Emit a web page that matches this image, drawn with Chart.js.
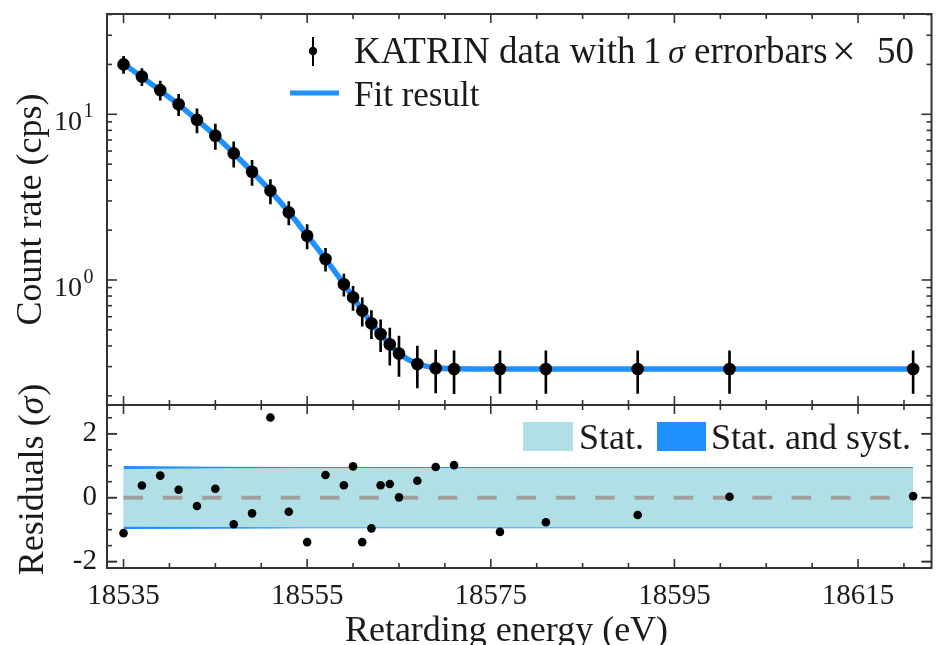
<!DOCTYPE html>
<html><head><meta charset="utf-8">
<script src="https://cdn.jsdelivr.net/npm/chart.js@4"></script>
<style>
html,body{margin:0;padding:0;background:#fff;overflow:hidden;width:946px;height:645px}
#wrap{position:relative;width:946px;height:645px;overflow:hidden}
#top{position:absolute;left:0;top:0;width:946px;height:420px}
#bot{position:absolute;left:0;top:370px;width:946px;height:290px}
</style></head><body>
<div id="wrap">
<canvas id="top" width="946" height="420"></canvas>
<canvas id="bot" width="946" height="290"></canvas>
</div>
<script>
// ---- data ----
const energies = [18535,18537,18539,18541,18543,18545,18547,18549,18551,18553,18555,18557,18559,18560,18561,18562,18563,18564,18565,18567,18569,18571,18576,18581,18591,18601,18621];
const rates = [20.0,16.9,14.0,11.5,9.25,7.43,5.81,4.50,3.46,2.56,1.85,1.34,0.942,0.786,0.653,0.548,0.472,0.409,0.360,0.311,0.293,0.290,0.290,0.290,0.290,0.290,0.290];
const rateErrors = [2.36,2.0,1.85,1.68,1.54,1.29,1.01,0.78,0.58,0.41,0.31,0.21,0.144,0.131,0.127,0.105,0.103,0.103,0.098,0.088,0.085,0.084,0.083,0.083,0.083,0.083,0.083];
const fitRates = [20.2,16.8,13.9,11.45,9.25,7.42,5.82,4.5,3.45,2.57,1.86,1.34,0.945,0.79,0.655,0.55,0.47,0.408,0.36,0.312,0.295,0.291,0.29,0.29,0.29,0.29,0.29];
const residuals = [-1.11,0.38,0.69,0.25,-0.26,0.28,-0.83,-0.49,2.51,-0.44,-1.39,0.71,0.39,0.98,-1.39,-0.96,0.39,0.43,0.01,0.53,0.96,1.02,-1.07,-0.77,-0.54,0.03,0.05];
const bandEnergies = [18535,18545,18555,18565,18575,18595,18621];
const statUpper = [0.90,0.92,0.93,0.93,0.93,0.93,0.93];
const statLower = [-0.91,-0.92,-0.93,-0.93,-0.93,-0.93,-0.93];
const systUpper = [0.99,0.97,0.96,0.96,0.96,0.96,0.96];
const systLower = [-0.98,-0.97,-0.96,-0.96,-0.96,-0.96,-0.96];
const xTickLabels = [18535,18555,18575,18595,18615];
const xMinorTicks = [18535,18540,18545,18550,18555,18560,18565,18570,18575,18580,18585,18590,18595,18600,18605,18610,18615,18620];
const logMajorTicks = [1,10];
const logMinorTicks = [0.2,0.3,0.4,0.5,0.6,0.7,0.8,0.9,2,3,4,5,6,7,8,9,20,30,40];
const resTickLabels = [-2,0,2];
const resMinorTicks = [-2,-1.5,-1,-0.5,0,0.5,1,1.5,2,2.5];

const SERIF = '"Liberation Serif", "DejaVu Serif", serif';
const INK = '#1a1a1a';
const BLUE = '#1E90FF';
const POWDER = '#B0E0E6';

const xy = (xs, ys) => xs.map((x, i) => ({x, y: ys[i]}));

const framePlugin = {
  id: 'frame',
  afterDraw(chart, args, o) {
    const ctx = chart.ctx;
    const {left, right, top, bottom} = chart.chartArea;
    const xs = chart.scales.x, ys = chart.scales.y;
    ctx.save();
    ctx.strokeStyle = '#333';
    ctx.lineWidth = 1.6;
    const seg = (a, b, c, d) => { ctx.beginPath(); ctx.moveTo(a, b); ctx.lineTo(c, d); ctx.stroke(); };
    xMinorTicks.forEach(v => {
      const p = xs.getPixelForValue(v);
      const L = xTickLabels.includes(v) ? 9 : 5;
      seg(p, top, p, top + L); seg(p, bottom, p, bottom - L);
    });
    const yMajor = o.yMajor, yMinor = o.yMinor;
    yMinor.concat(yMajor).forEach(v => {
      const p = ys.getPixelForValue(v);
      if (p < top - 0.5 || p > bottom + 0.5) return;
      const L = yMajor.includes(v) ? 10 : 5;
      seg(left, p, left + L, p); seg(right, p, right - L, p);
    });
    ctx.lineWidth = 2;
    ctx.strokeRect(left, top, right - left, bottom - top);
    ctx.restore();
  }
};

const topDecor = {
  id: 'topDecor',
  afterDraw(chart) {
    const ctx = chart.ctx;
    const ys = chart.scales.y;
    ctx.save();
    ctx.fillStyle = INK;
    logMajorTicks.forEach(v => {
      const p = ys.getPixelForValue(v);
      const ex = String(Math.round(Math.log10(v)));
      ctx.font = '28px ' + SERIF;
      ctx.textAlign = 'right'; ctx.textBaseline = 'alphabetic';
      ctx.fillText('10', 82, p + 16);
      ctx.font = '20px ' + SERIF;
      ctx.textAlign = 'left';
      ctx.fillText(ex, 83.5, p + 3);
    });
    // legend
    ctx.strokeStyle = '#000'; ctx.lineWidth = 2;
    ctx.beginPath(); ctx.moveTo(313, 37); ctx.lineTo(313, 66); ctx.stroke();
    ctx.fillStyle = '#000';
    ctx.beginPath(); ctx.arc(313, 51, 4.2, 0, Math.PI * 2); ctx.fill();
    ctx.fillStyle = INK;
    ctx.textAlign = 'left'; ctx.textBaseline = 'alphabetic';
    ctx.font = '37px ' + SERIF;
    ctx.fillText('KATRIN data with', 354, 63);
    ctx.fillText('1', 643, 63);
    ctx.font = 'italic 34px ' + SERIF;
    ctx.fillText('σ', 668, 63);
    ctx.font = '37px ' + SERIF;
    ctx.fillText('errorbars', 694, 63);
    ctx.font = '42px ' + SERIF;
    ctx.fillText('×', 832, 65);
    ctx.font = '37px ' + SERIF;
    ctx.fillText('50', 877, 63);
    ctx.strokeStyle = BLUE; ctx.lineWidth = 5;
    ctx.beginPath(); ctx.moveTo(290, 93); ctx.lineTo(339, 93); ctx.stroke();
    ctx.font = '35px ' + SERIF;
    ctx.fillText('Fit result', 354, 106);
    ctx.restore();
  }
};

const botDecor = {
  id: 'botDecor',
  afterDraw(chart) {
    const ctx = chart.ctx;
    const off = 370;
    ctx.save();
    ctx.fillStyle = POWDER;
    ctx.fillRect(523, 422 - off, 50, 29);
    ctx.fillStyle = BLUE;
    ctx.fillRect(657, 422 - off, 49, 29);
    ctx.fillStyle = INK;
    ctx.font = '36px ' + SERIF;
    ctx.textAlign = 'left'; ctx.textBaseline = 'alphabetic';
    ctx.fillText('Stat.', 579, 449 - off);
    ctx.fillText('Stat. and syst.', 711, 449 - off);
    // x-axis title
    ctx.textAlign = 'center';
    ctx.fillText('Retarding energy (eV)', 506.5, 641 - off);
    // residual y-axis title with italic sigma
    ctx.translate(43, 480 - off);
    ctx.rotate(-Math.PI / 2);
    ctx.textAlign = 'left';
    const a = 'Residuals (', s = 'σ', b = ')';
    ctx.font = '36px ' + SERIF; const wa = ctx.measureText(a).width, wb = ctx.measureText(b).width;
    ctx.font = 'italic 36px ' + SERIF; const ws = ctx.measureText(s).width;
    let x0 = -(wa + ws + wb) / 2;
    ctx.font = '36px ' + SERIF; ctx.fillText(a, x0, 0);
    ctx.font = 'italic 36px ' + SERIF; ctx.fillText(s, x0 + wa, 0);
    ctx.font = '36px ' + SERIF; ctx.fillText(b, x0 + wa + ws + 1, 0);
    ctx.restore();
  }
};

const X_MIN = 18533.2, X_MAX = 18623.0;

new Chart(document.getElementById('top'), {
  type: 'scatter',
  data: {
    datasets: [
      {type: 'scatter', data: xy(energies, rates), pointRadius: 6.3, pointBackgroundColor: '#000', pointBorderWidth: 0, order: 0},
      {type: 'bar', data: energies.map((e, i) => ({x: e, y: [rates[i] - rateErrors[i], rates[i] + rateErrors[i]]})), backgroundColor: '#000', barThickness: 2, borderWidth: 0, order: 1},
      {type: 'line', data: xy(energies, fitRates), borderColor: BLUE, borderWidth: 5.5, pointRadius: 0, cubicInterpolationMode: 'monotone', fill: false, order: 2}
    ]
  },
  options: {
    responsive: false, animation: false, devicePixelRatio: 1,
    layout: {padding: {left: 0, right: 14.5, top: 14, bottom: 15}},
    plugins: {legend: {display: false}, tooltip: {enabled: false},
      frame: {yMajor: logMajorTicks, yMinor: logMinorTicks}},
    scales: {
      x: {type: 'linear', min: X_MIN, max: X_MAX, offset: false, grid: {offset: false}, display: false},
      y: {type: 'logarithmic', min: 0.176, max: 40.3, offset: false, beginAtZero: false,
        grid: {display: false, drawTicks: false}, border: {display: false},
        ticks: {display: false},
        title: {display: true, text: 'Count rate (cps)', color: INK, font: {family: SERIF, size: 36}, padding: {top: 10, bottom: 0}},
        afterFit(s) { s.width = 107; }
      }
    }
  },
  plugins: [framePlugin, topDecor]
});

new Chart(document.getElementById('bot'), {
  type: 'scatter',
  data: {
    datasets: [
      {type: 'scatter', data: xy(energies, residuals), pointRadius: 4.3, pointBackgroundColor: '#000', pointBorderWidth: 0, order: 0},
      {type: 'line', data: [{x: energies[0], y: 0}, {x: energies[energies.length - 1], y: 0}], borderColor: '#a0a0a0', borderWidth: 4, borderDash: [19.5, 19.8], pointRadius: 0, fill: false, order: 1},
      {type: 'line', data: xy(bandEnergies, systUpper), borderColor: 'transparent', borderWidth: 0, pointRadius: 0, fill: '+1', backgroundColor: BLUE, order: 5},
      {type: 'line', data: xy(bandEnergies, systLower), borderColor: 'transparent', borderWidth: 0, pointRadius: 0, fill: false, order: 5},
      {type: 'line', data: xy(bandEnergies, statUpper), borderColor: 'transparent', borderWidth: 0, pointRadius: 0, fill: '+1', backgroundColor: POWDER, order: 4},
      {type: 'line', data: xy(bandEnergies, statLower), borderColor: 'transparent', borderWidth: 0, pointRadius: 0, fill: false, order: 4}
    ]
  },
  options: {
    responsive: false, animation: false, devicePixelRatio: 1,
    layout: {padding: {left: 0, right: 14.5, top: 35, bottom: 0}},
    plugins: {legend: {display: false}, tooltip: {enabled: false},
      frame: {yMajor: resTickLabels, yMinor: resMinorTicks}},
    scales: {
      x: {type: 'linear', min: X_MIN, max: X_MAX, offset: false,
        grid: {display: false, drawTicks: false}, border: {display: false},
        afterBuildTicks(s) { s.ticks = xTickLabels.map(v => ({value: v})); },
        ticks: {font: {family: SERIF, size: 29}, color: INK, padding: 11, maxRotation: 0, autoSkip: false, callback: v => String(v)},
        title: {display: false},
        afterFit(s) { s.height = 92; }
      },
      y: {type: 'linear', min: -2.2, max: 2.9,
        grid: {display: false, drawTicks: false}, border: {display: false},
        afterBuildTicks(s) { s.ticks = resTickLabels.map(v => ({value: v})); },
        ticks: {font: {family: SERIF, size: 29}, color: INK, padding: 10, autoSkip: false, callback: v => String(v)},
        title: {display: false},
        afterFit(s) { s.width = 107; }
      }
    }
  },
  plugins: [framePlugin, botDecor]
});
</script>
</body></html>
